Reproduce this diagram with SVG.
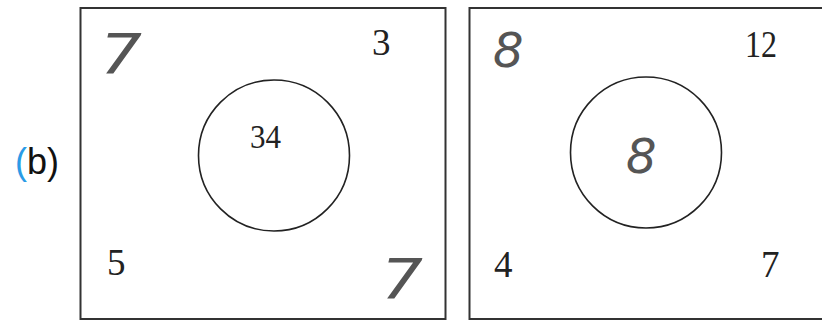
<svg xmlns="http://www.w3.org/2000/svg" width="822" height="320" viewBox="0 0 822 320">
<style>
.box{fill:none;stroke:#333;stroke-width:2}
.circ{fill:none;stroke:#222;stroke-width:1.6}
.num{font-family:"Liberation Serif",serif;font-size:37px;fill:#222}
.hand{font-family:"DejaVu Sans",sans-serif;font-size:48px;fill:#555;font-style:italic;font-weight:200}
.h7{font-size:55px}
.lbl{font-family:"Liberation Sans",sans-serif;font-size:36px;fill:#111}
</style>
<rect width="822" height="320" fill="#fff"/>
<g id="label">
<text class="lbl" x="15" y="174"><tspan fill="#2b9be6">(</tspan>b)</text>
</g>
<g id="panel-left">
<rect class="box" x="80.5" y="8" width="365" height="311"/>
<circle class="circ" cx="274" cy="155.5" r="75.5"/>
<text class="hand h7" x="100" y="73" textLength="42" lengthAdjust="spacingAndGlyphs">7</text>
<text class="num" x="372" y="55">3</text>
<text class="num" x="250" y="148" style="font-size:34px" textLength="31" lengthAdjust="spacingAndGlyphs">34</text>
<text class="num" x="107" y="275">5</text>
<text class="hand h7" x="381" y="298" textLength="42" lengthAdjust="spacingAndGlyphs">7</text>
</g>
<g id="panel-right">
<rect class="box" x="469.5" y="8" width="360" height="311"/>
<circle class="circ" cx="646" cy="152.5" r="75.5"/>
<text class="hand" x="493" y="67">8</text>
<text class="num" x="745" y="57" textLength="32" lengthAdjust="spacingAndGlyphs">12</text>
<text class="hand" x="626" y="173">8</text>
<text class="num" x="494" y="277">4</text>
<text class="num" x="761" y="277">7</text>
</g>
</svg>
